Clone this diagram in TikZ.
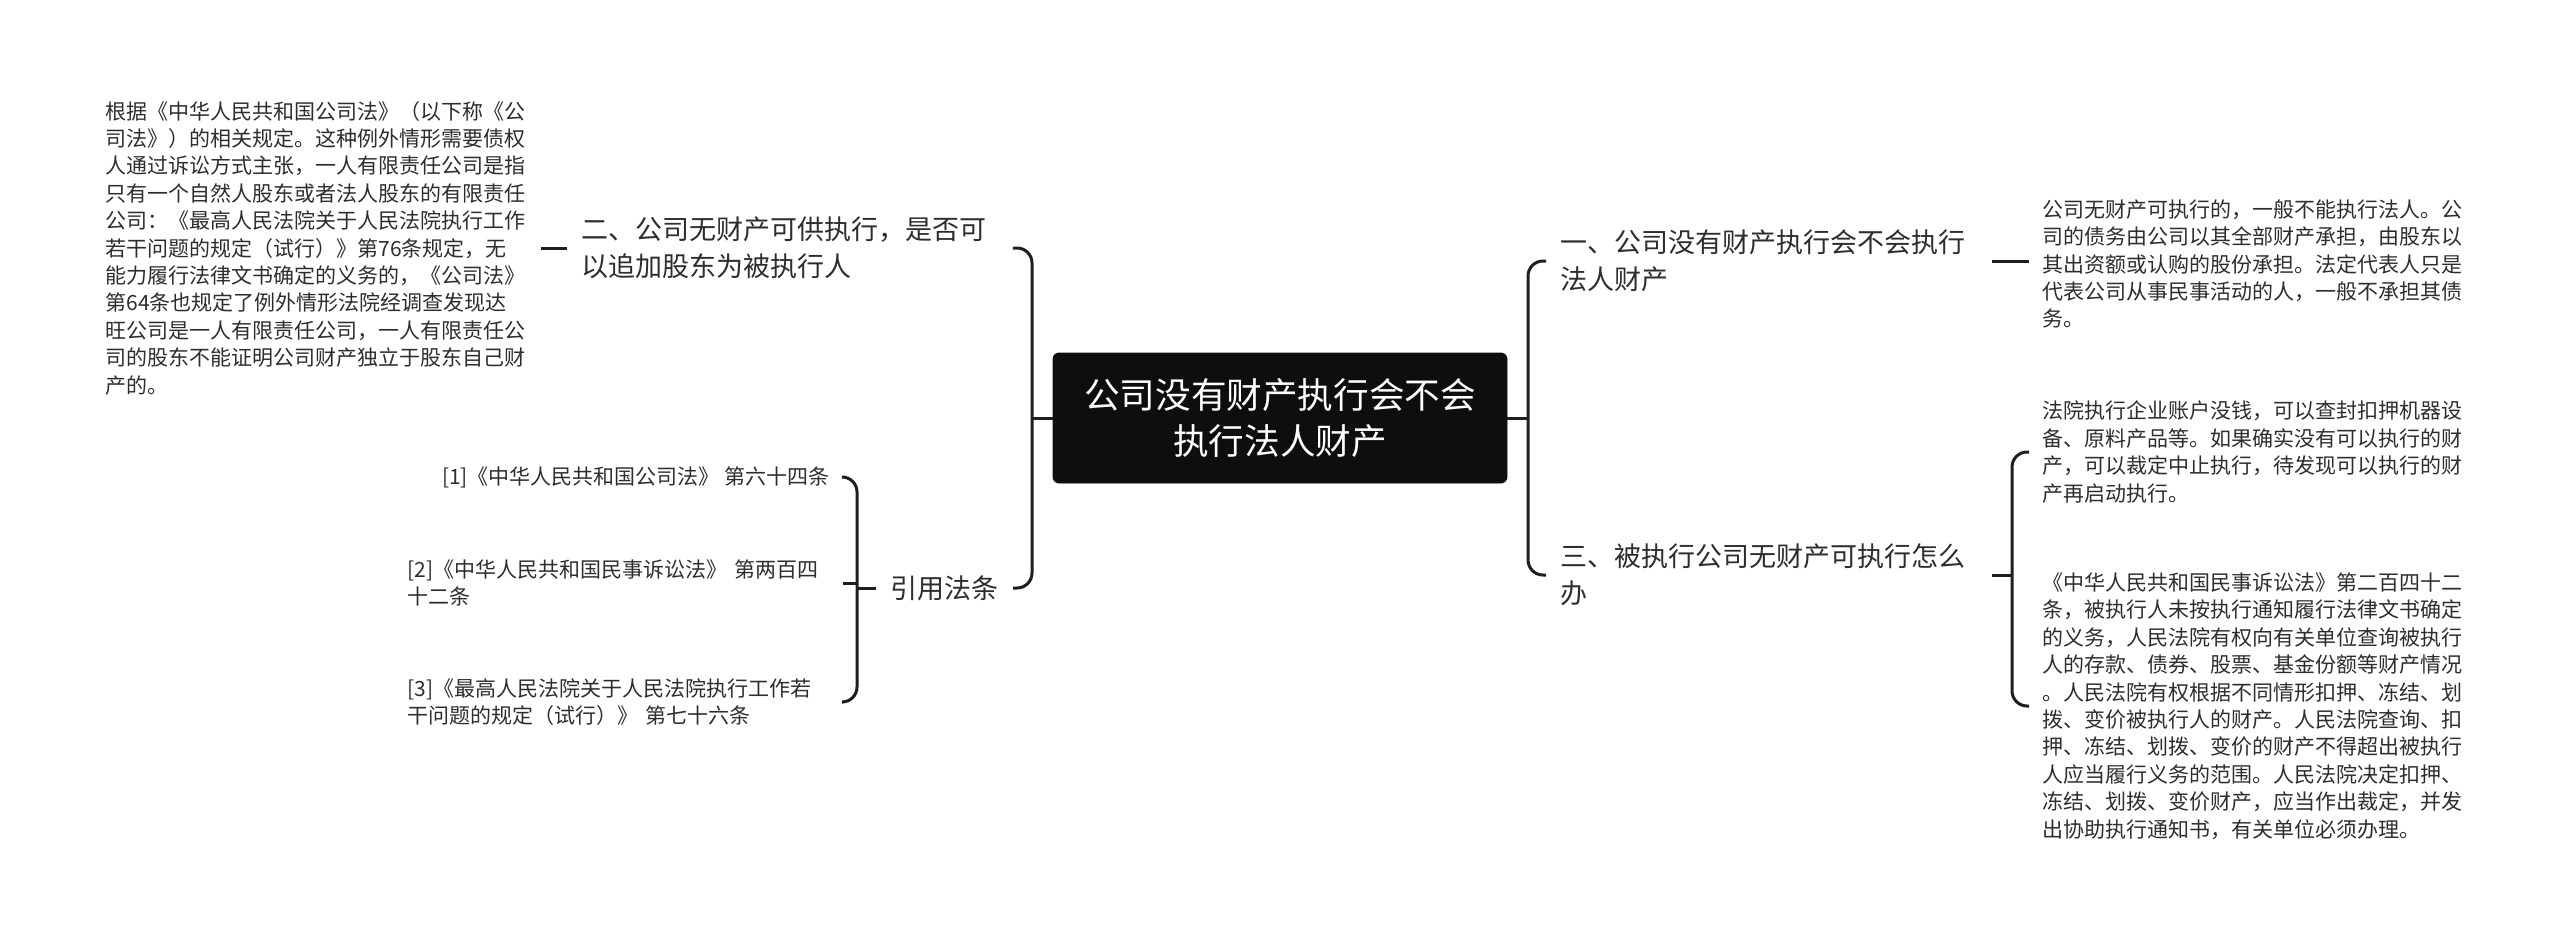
\documentclass[tikz,border=0pt]{standalone}
\usepackage{fontspec}
\setmainfont{Noto Sans CJK SC}
\usetikzlibrary{positioning}
\definecolor{mmink}{RGB}{45,45,45}
\definecolor{mmline}{RGB}{30,30,30}
\definecolor{mmroot}{RGB}{14,14,14}

\begin{document}
\begin{tikzpicture}[x=1pt, y=-1pt,
    root/.style={rectangle, rounded corners=3pt, fill=mmroot, draw=mmroot, text=white, minimum width=227pt, minimum height=65pt, align=center, font=\fontsize{17.8}{23}\selectfont},
    branch/.style={inner xsep=7pt, inner ysep=3pt, text=mmink, font=\fontsize{13.5}{18.5}\selectfont},
    branchwrap/.style={branch, text width=208.5pt, align=left},
    leaf/.style={inner xsep=6.5pt, inner ysep=2pt, text=mmink, align=left, font=\fontsize{10.5}{13.7}\selectfont},
    para/.style={leaf, text width=211pt},
    link/.style={draw=mmline, line width=1.5pt, rounded corners=7.5pt}
  ]
  \useasboundingbox (0,0) rectangle (1280,468.5);

  \node[root] (root) at (640,209) {公司没有财产执行会不会\\执行法人财产};

  \node[branchwrap, anchor=west] (b2) at (283.5,124) {二、公司无财产可供执行，是否可\\以追加股东为被执行人};
  \node[branch, anchor=east] (law) at (506.5,294) {引用法条};
  \node[branchwrap, anchor=west] (b1) at (773,130.5) {一、公司没有财产执行会不会执行\\法人财产};
  \node[branchwrap, anchor=west] (b3) at (773,287.5) {三、被执行公司无财产可执行怎么\\办};

  \node[para, anchor=west] (shareholder) at (46,124) {根据《中华人民共和国公司法》（以下称《公\\司法》）的相关规定。这种例外情形需要债权\\人通过诉讼方式主张，一人有限责任公司是指\\只有一个自然人股东或者法人股东的有限责任\\公司：《最高人民法院关于人民法院执行工作\\若干问题的规定（试行）》第76条规定，无\\能力履行法律文书确定的义务的，《公司法》\\第64条也规定了例外情形法院经调查发现达\\旺公司是一人有限责任公司，一人有限责任公\\司的股东不能证明公司财产独立于股东自己财\\产的。};

  \node[leaf, anchor=east] (cite1) at (421.5,238.5) {[1]《中华人民共和国公司法》 第六十四条};
  \node[para, anchor=east] (cite2) at (421.5,291.5) {[2]《中华人民共和国民事诉讼法》 第两百四\\十二条};
  \node[para, anchor=east] (cite3) at (421.5,351) {[3]《最高人民法院关于人民法院执行工作若\\干问题的规定（试行）》 第七十六条};

  \node[para, anchor=west] (noasset) at (1014.5,132) {公司无财产可执行的，一般不能执行法人。公\\司的债务由公司以其全部财产承担，由股东以\\其出资额或认购的股份承担。法定代表人只是\\代表公司从事民事活动的人，一般不承担其债\\务。};
  \node[para, anchor=west] (seize) at (1014.5,226) {法院执行企业账户没钱，可以查封扣押机器设\\备、原料产品等。如果确实没有可以执行的财\\产，可以裁定中止执行，待发现可以执行的财\\产再启动执行。};
  \node[para, anchor=west] (civil) at (1014.5,353) {《中华人民共和国民事诉讼法》第二百四十二\\条，被执行人未按执行通知履行法律文书确定\\的义务，人民法院有权向有关单位查询被执行\\人的存款、债券、股票、基金份额等财产情况\\。人民法院有权根据不同情形扣押、冻结、划\\拨、变价被执行人的财产。人民法院查询、扣\\押、冻结、划拨、变价的财产不得超出被执行\\人应当履行义务的范围。人民法院决定扣押、\\冻结、划拨、变价财产，应当作出裁定，并发\\出协助执行通知书，有关单位必须办理。};

  % bracket spines
  \coordinate (lspine) at (516,209);
  \coordinate (rspine) at (764,209);
  \coordinate (lawspine) at (428.5,294);
  \coordinate (b3spine) at (1006,287.5);

  \draw[link] (root.west) -- (lspine);
  \draw[link] (b2.east) -| (lspine) |- (law.east);
  \draw[link] (root.east) -- (rspine);
  \draw[link] (b1.west) -| (rspine) |- (b3.west);

  \draw[link] (shareholder.east) -- (b2.west);
  \draw[link] (law.west) -- (lawspine);
  \draw[link] (cite1.east) -| (lawspine) |- (cite3.east);
  \draw[link] (cite2.east) -- (cite2.east -| lawspine);

  \draw[link] (b1.east) -- (b1.east -| noasset.west);
  \draw[link] (b3.east) -- (b3spine);
  \draw[link] (seize.west) -| (b3spine) |- (civil.west);
\end{tikzpicture}
\end{document}
